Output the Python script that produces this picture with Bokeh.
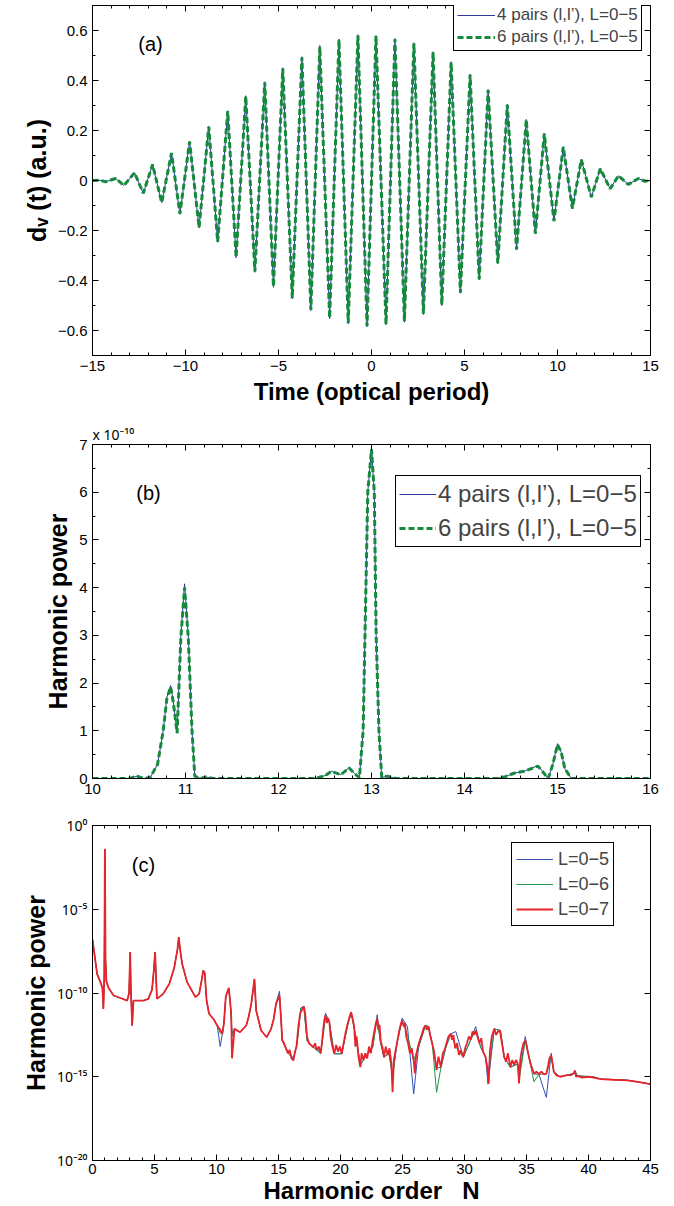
from bokeh.plotting import figure
from bokeh.models import (FixedTicker, CustomJSTickFormatter, LinearAxis, LogAxis,
                          Label, Range1d, Title)
from bokeh.layouts import column
from bokeh.embed import file_html
from bokeh.resources import INLINE

FONT = "Liberation Sans"
SUPFONT = "Noto Sans"

# ---------------- panel (a): dipole d_V(t) ----------------
t_a = [-15.00, -14.60, -14.30, -13.75, -13.31, -12.74, -12.27, -11.77, -11.28, -10.75,
       -10.30, -9.78, -9.27, -8.75, -8.27, -7.73, -7.28, -6.76, -6.27, -5.74,
       -5.27, -4.77, -4.26, -3.74, -3.26, -2.78, -2.25, -1.75, -1.25, -0.73,
       -0.24, 0.24, 0.78, 1.26, 1.77, 2.28, 2.79, 3.31, 3.78, 4.28,
       4.78, 5.30, 5.79, 6.27, 6.79, 7.30, 7.80, 8.32, 8.81, 9.29,
       9.81, 10.31, 10.80, 11.28, 11.82, 12.30, 12.83, 13.28, 13.80, 14.35,
       14.70, 15.00]
d_4pairs = [0.000, 0.001, -0.005, 0.008, -0.020, 0.031, -0.051, 0.064, -0.088, 0.110,
            -0.135, 0.157, -0.190, 0.217, -0.247, 0.279, -0.309, 0.339, -0.367, 0.395,
            -0.427, 0.451, -0.473, 0.495, -0.520, 0.540, -0.553, 0.566, -0.573, 0.583,
            -0.585, 0.580, -0.577, 0.568, -0.567, 0.551, -0.536, 0.515, -0.500, 0.475,
            -0.451, 0.425, -0.397, 0.364, -0.333, 0.305, -0.277, 0.244, -0.213, 0.188,
            -0.163, 0.135, -0.113, 0.084, -0.067, 0.047, -0.033, 0.019, -0.016, 0.008,
            -0.003, 0.000]
d_6pairs = [0.000, 0.001, -0.005, 0.008, -0.020, 0.031, -0.051, 0.064, -0.088, 0.110,
            -0.133, 0.155, -0.188, 0.215, -0.245, 0.277, -0.307, 0.336, -0.364, 0.392,
            -0.424, 0.448, -0.470, 0.492, -0.517, 0.534, -0.550, 0.562, -0.570, 0.580,
            -0.582, 0.578, -0.574, 0.565, -0.563, 0.548, -0.533, 0.512, -0.497, 0.472,
            -0.449, 0.423, -0.395, 0.362, -0.331, 0.303, -0.276, 0.243, -0.212, 0.187,
            -0.162, 0.134, -0.112, 0.083, -0.066, 0.047, -0.033, 0.019, -0.016, 0.008,
            -0.003, 0.000]

# ---------------- panel (b): harmonic power (x 1e-10) ----------------
h_b = [10.00, 10.40, 10.48, 10.55, 10.62, 10.70, 10.76, 10.80, 10.84, 10.87,
       10.91, 10.95, 10.99, 11.03, 11.07, 11.10, 11.16, 11.22, 11.30, 12.40,
       12.50, 12.57, 12.67, 12.76, 12.82, 12.87, 12.91, 12.93, 12.96, 13.00,
       13.03, 13.05, 13.08, 13.11, 13.17, 13.26, 14.35, 14.44, 14.53, 14.64,
       14.79, 14.85, 14.90, 14.95, 15.00, 15.04, 15.08, 15.15, 16.00]
pw_4pairs = [0.00, 0.00, 0.05, 0.00, 0.02, 0.30, 1.00, 1.70, 1.95, 1.60,
             0.95, 3.00, 4.08, 3.00, 1.00, 0.05, 0.00, 0.03, 0.00, 0.00,
             0.06, 0.15, 0.08, 0.23, 0.10, 0.02, 1.00, 3.00, 6.00, 6.93,
             6.00, 3.00, 1.00, 0.02, 0.05, 0.00, 0.00, 0.04, 0.11, 0.15,
             0.27, 0.12, 0.00, 0.30, 0.73, 0.55, 0.20, 0.00, 0.00]
pw_6pairs = [0.00, 0.00, 0.05, 0.00, 0.02, 0.30, 1.00, 1.68, 1.92, 1.58,
             0.95, 2.95, 4.00, 2.95, 1.00, 0.05, 0.00, 0.03, 0.00, 0.00,
             0.06, 0.15, 0.08, 0.22, 0.10, 0.02, 1.00, 3.00, 6.00, 6.90,
             6.00, 3.00, 1.00, 0.02, 0.05, 0.00, 0.00, 0.04, 0.11, 0.15,
             0.26, 0.12, 0.00, 0.30, 0.71, 0.55, 0.20, 0.00, 0.00]

# ---------------- panel (c): harmonic spectrum, log10 of power ----------------
# L=0-7 (finest reading)
N_c7 = [0.00, 0.37, 0.64, 0.80, 0.88, 0.95, 1.00, 1.05, 1.12, 1.30,
        1.70, 2.24, 2.80, 2.95, 3.04, 3.10, 3.20, 3.30, 4.10, 4.50,
        4.80, 4.95, 5.05, 5.12, 5.20, 5.70, 6.20, 6.60, 6.85, 6.96,
        7.05, 7.23, 7.63, 8.30, 8.60, 8.80, 8.93, 9.05, 9.20, 9.40,
        9.80, 10.05, 10.30, 10.47, 10.60, 10.75, 10.99, 11.10, 11.18, 11.25,
        11.45, 11.90, 12.40, 12.60, 12.80, 13.06, 13.20, 13.60, 14.05, 14.40,
        14.60, 14.80,
        15.08, 15.20, 15.30, 15.45, 15.60, 15.75, 15.90, 16.05, 16.20, 16.30,
        16.45, 16.60, 16.75, 16.90, 17.04, 17.15, 17.30, 17.45, 17.60, 17.80,
        17.95, 18.10, 18.25, 18.40, 18.50, 18.60, 18.70, 18.79, 18.90, 19.00,
        19.10, 19.20, 19.35, 19.50, 19.65, 19.80, 19.95, 20.10, 20.25, 20.40,
        20.55, 20.70, 20.86, 21.00, 21.10, 21.20, 21.30, 21.45, 21.60, 21.70,
        21.85, 22.00, 22.15, 22.30, 22.45, 22.60, 22.75, 22.85, 22.96, 23.05,
        23.15, 23.25, 23.40, 23.50, 23.65, 23.80, 23.95, 24.10, 24.20, 24.30,
        24.45, 24.60, 24.75, 24.85, 24.97, 25.10, 25.20, 25.30, 25.45, 25.60,
        25.75, 25.90, 26.00, 26.10, 26.25, 26.40, 26.55, 26.70, 26.85, 26.95,
        27.10, 27.25, 27.40, 27.55, 27.75, 27.90, 28.10, 28.25, 28.40, 28.55,
        28.70, 28.90, 29.00, 29.10, 29.25, 29.40, 29.55, 29.70, 29.90, 30.05,
        30.20, 30.35, 30.50, 30.65, 30.80, 30.90, 31.05, 31.20, 31.35, 31.50,
        31.70, 31.85, 31.95, 32.05, 32.20, 32.40, 32.55, 32.70, 32.85, 33.00,
        33.20, 33.35, 33.50, 33.70, 33.85, 34.00, 34.15, 34.30, 34.40, 34.50,
        34.60, 34.75, 34.90, 35.00, 35.10, 35.20, 35.35, 35.50, 35.60, 35.80,
        36.00, 36.20, 36.40, 36.60, 36.75, 36.85, 36.99, 37.10, 37.20, 37.40,
        37.70, 38.00, 38.30, 38.60, 38.80, 38.90, 39.00, 39.10, 39.50, 40.00,
        40.40, 41.00, 42.00, 43.10, 44.00, 45.00]
lg_L7 = [-6.80, -8.86, -9.35, -9.70, -10.95, -9.00, -1.40, -8.00, -9.30, -9.70,
         -10.15, -10.30, -10.45, -10.00, -7.56, -10.00, -11.94, -10.45, -10.45, -10.35,
         -9.80, -8.60, -7.55, -9.00, -10.35, -10.05, -9.45, -8.46, -7.40, -6.67,
         -7.30, -8.26, -9.35, -10.25, -10.05, -9.25, -8.66, -8.80, -10.45, -11.24,
         -11.60, -11.94, -12.20, -12.44, -11.80, -10.20, -9.69, -10.50, -11.20, -13.90,
         -12.14, -12.34, -11.94, -11.40, -10.65, -9.15, -11.05, -12.24, -12.64, -12.14,
         -11.60, -10.65,
         -10.15, -11.50, -12.80, -13.00, -13.30, -13.60, -13.40, -13.90, -14.03, -13.60,
         -13.20, -12.00, -11.20, -11.00, -10.80, -11.20, -12.60, -13.00, -13.10, -13.25,
         -13.00, -13.40, -13.20, -13.60, -13.00, -12.20, -11.60, -11.34, -11.80, -11.50,
         -11.74, -12.60, -13.20, -13.63, -13.10, -13.50, -13.20, -13.63, -13.00, -12.40,
         -11.90, -11.50, -11.14, -11.60, -12.00, -13.20, -12.60, -13.80, -14.43, -13.60,
         -14.00, -13.60, -13.90, -13.20, -13.60, -12.80, -12.20, -11.80, -11.54, -12.20,
         -11.90, -12.90, -13.30, -13.83, -13.20, -13.70, -13.30, -14.20, -15.93, -14.00,
         -13.40, -12.80, -12.20, -11.90, -11.64, -12.00, -11.80, -12.60, -13.00, -13.60,
         -13.30, -14.03, -14.80, -13.70, -13.20, -12.80, -12.50, -12.10, -11.94, -12.20,
         -12.00, -12.60, -13.03, -13.50, -14.60, -13.80, -14.43, -13.60, -13.40, -13.00,
         -12.60, -12.44, -12.80, -12.50, -13.30, -13.00, -13.70, -13.40, -13.83, -13.30,
         -13.00, -12.60, -12.80, -12.30, -12.50, -12.24, -12.60, -13.00, -12.70, -13.50,
         -13.83, -14.50, -15.40, -13.50, -12.60, -12.14, -12.50, -12.30, -12.24, -12.90,
         -13.83, -14.10, -13.60, -14.43, -14.00, -14.30, -14.00, -14.23, -15.40, -14.00,
         -13.50, -13.00, -12.84, -13.10, -13.50, -13.83, -14.30, -14.60, -14.83, -14.70,
         -14.85, -14.70, -14.85, -14.83, -14.30, -13.90, -13.73, -14.20, -14.70, -14.90,
         -15.00, -14.95, -14.90, -14.90, -14.80, -14.64, -15.00, -14.95, -15.05, -15.00,
         -15.05, -15.14, -15.18, -15.22, -15.30, -15.44]
# L=0-6 and L=0-5 (coarser reading, mostly hidden under L=0-7)
N_c56 = [0.00, 0.37, 0.64, 0.80, 0.88, 0.95, 1.00, 1.05, 1.12, 1.30,
         1.70, 2.24, 2.80, 2.95, 3.04, 3.10, 3.20, 3.30, 4.10, 4.50,
         4.80, 4.95, 5.05, 5.12, 5.20, 5.70, 6.20, 6.60, 6.85, 6.96,
         7.05, 7.23, 7.63, 8.30, 8.60, 8.80, 8.93, 9.05, 9.20, 9.40,
         9.80, 10.05, 10.30, 10.47, 10.60, 10.75, 10.99, 11.10, 11.18, 11.25,
         11.45, 11.90, 12.40, 12.60, 12.80, 13.06, 13.20, 13.60, 14.05, 14.40,
         14.60, 14.80, 15.08, 15.20, 15.30, 15.70, 16.20, 16.50, 16.80, 17.04,
         17.30, 17.80, 18.40, 18.60, 18.79, 19.10, 19.50, 20.10, 20.60, 20.86,
         21.30, 21.60, 22.00, 22.60, 22.96, 23.20, 23.50, 23.90, 24.20, 24.30,
         24.55, 24.97, 25.40, 25.90, 26.30, 26.85, 27.10, 27.40, 27.75, 28.10,
         28.50, 28.90, 29.30, 29.90, 30.50, 30.90, 31.30, 31.70, 31.90, 32.40,
         32.90, 33.20, 33.70, 34.30, 34.40, 34.90, 35.20, 35.60, 36.00, 36.60,
         36.99, 37.20, 37.70, 38.30, 38.80, 38.90, 39.10, 40.40, 41.00, 43.10,
         45.00]
lg_L6 = [-6.80, -8.86, -9.35, -9.70, -10.95, -9.00, -1.40, -8.00, -9.30, -9.70,
         -10.15, -10.30, -10.45, -10.00, -7.56, -10.00, -11.94, -10.45, -10.45, -10.35,
         -9.80, -8.60, -7.55, -9.00, -10.35, -10.05, -9.45, -8.46, -7.40, -6.67,
         -7.30, -8.26, -9.35, -10.25, -10.05, -9.25, -8.66, -8.80, -10.45, -11.24,
         -11.60, -11.94, -12.40, -12.44, -11.80, -10.20, -9.75, -10.50, -11.30, -12.60,
         -12.14, -12.34, -11.94, -11.40, -10.70, -9.20, -11.05, -12.24, -12.64, -12.14,
         -11.60, -10.70, -10.10, -11.50, -12.84, -13.53, -14.00, -13.03, -10.90, -10.80,
         -12.84, -13.23, -13.63, -12.50, -11.40, -11.74, -13.63, -13.63, -11.84, -11.20,
         -12.84, -14.30, -13.83, -13.23, -11.50, -12.84, -13.83, -13.60, -15.00, -14.43,
         -13.03, -11.64, -12.50, -14.03, -13.23, -11.94, -12.00, -13.03, -15.93, -14.43,
         -13.23, -12.44, -13.23, -13.83, -12.80, -12.24, -13.23, -13.83, -14.83, -12.14,
         -12.24, -13.83, -14.43, -14.23, -15.20, -12.84, -13.83, -15.30, -14.85, -14.83,
         -13.80, -14.70, -15.00, -14.90, -14.80, -14.64, -14.95, -15.00, -15.14, -15.20,
         -15.44]
lg_L5 = [-6.80, -8.86, -9.35, -9.70, -10.95, -9.00, -1.40, -8.00, -9.30, -9.70,
         -10.15, -10.30, -10.45, -10.00, -7.56, -10.00, -11.94, -10.45, -10.45, -10.35,
         -9.80, -8.60, -7.55, -9.00, -10.35, -10.05, -9.45, -8.46, -7.40, -6.67,
         -7.30, -8.26, -9.35, -10.25, -10.05, -9.25, -8.66, -8.80, -10.45, -11.24,
         -11.60, -11.94, -13.20, -12.44, -11.80, -10.20, -9.75, -10.50, -11.30, -12.40,
         -12.14, -12.34, -11.94, -11.40, -10.70, -9.20, -11.05, -12.24, -12.64, -12.14,
         -11.60, -10.60, -9.90, -11.50, -12.84, -13.40, -13.90, -13.03, -10.90, -10.80,
         -12.84, -13.23, -13.50, -12.50, -11.20, -11.74, -13.63, -13.63, -11.84, -11.20,
         -12.84, -14.30, -13.83, -13.23, -11.30, -12.84, -13.83, -13.60, -14.80, -14.43,
         -13.03, -11.50, -12.00, -16.03, -13.23, -11.94, -12.00, -13.03, -14.50, -14.43,
         -13.23, -12.44, -12.30, -13.83, -12.80, -12.00, -13.23, -13.83, -15.44, -12.14,
         -12.24, -13.83, -14.43, -14.23, -15.00, -12.60, -13.83, -14.83, -14.85, -16.23,
         -13.60, -14.70, -15.00, -14.90, -14.80, -14.64, -14.95, -15.00, -15.14, -15.20,
         -15.44]

# ticks
xa_major = [-15, -10, -5, 0, 5, 10, 15]
xa_minor = list(range(-15, 16))
ya_major = [-0.6, -0.4, -0.2, 0.0, 0.2, 0.4, 0.6]
ya_minor = [-0.7, -0.5, -0.3, -0.1, 0.1, 0.3, 0.5, 0.7]
xb_major = [10, 11, 12, 13, 14, 15, 16]
xb_minor = [10 + 0.2 * i for i in range(31)]
yb_major = [0, 1, 2, 3, 4, 5, 6, 7]
yb_minor = [0.5 * i for i in range(15)]
xc_major = [0, 5, 10, 15, 20, 25, 30, 35, 40, 45]
xc_minor = list(range(0, 46))
yc_major = [1e-20, 1e-15, 1e-10, 1e-5, 1e0]

BLUE = "#2b3a9e"
GREEN = "#148a3c"
BLUE_C = "#3350b5"
GREEN_C = "#1a9648"
RED_C = "#e8232b"

fmt_int = CustomJSTickFormatter(code="return tick.toFixed(0).replace('-', '\u2212');")
fmt_one = CustomJSTickFormatter(code="if (Math.abs(tick) < 1e-9) {return '0';} return tick.toFixed(1).replace('-', '\u2212');")
fmt_log = CustomJSTickFormatter(code="""
const e = Math.round(Math.log10(tick));
const sup = {'0':'\u2070','1':'\u00b9','2':'\u00b2','3':'\u00b3','4':'\u2074','5':'\u2075','6':'\u2076','7':'\u2077','8':'\u2078','9':'\u2079','-':'\u207b'};
return '10' + String(e).split('').map(c => sup[c]).join('');
""")
fmt_none = CustomJSTickFormatter(code="return '';")


def style_axis(ax, fs="15px"):
    ax.major_tick_in = 6
    ax.major_tick_out = 0
    ax.minor_tick_in = 3
    ax.minor_tick_out = 0
    ax.axis_line_color = "black"
    ax.major_tick_line_color = "black"
    ax.minor_tick_line_color = "black"
    ax.major_label_text_font = FONT
    ax.major_label_text_font_size = fs
    ax.major_label_text_color = "black"
    ax.axis_label_text_font = FONT
    ax.axis_label_text_font_style = "bold"
    ax.axis_label_text_color = "black"
    ax.major_label_standoff = 5
    ax.axis_label_standoff = 4


def mirror_axes(p, xt, yt, log_y=False):
    top = LinearAxis(ticker=xt, formatter=fmt_none)
    right = (LogAxis if log_y else LinearAxis)(ticker=yt, formatter=fmt_none)
    for ax in (top, right):
        style_axis(ax, "1px")
        ax.major_label_standoff = 0
    p.add_layout(top, "above")
    p.add_layout(right, "right")


def base(p):
    p.xgrid.visible = False
    p.ygrid.visible = False
    p.outline_line_color = "black"
    p.background_fill_color = "white"
    p.border_fill_color = "white"


def style_legend(lg, loc, fs, gw, gh, sp, standoff=2, pad=3):
    lg.location = loc
    lg.border_line_color = "black"
    lg.border_line_width = 1
    lg.border_line_alpha = 1
    lg.background_fill_alpha = 1
    lg.label_text_font = FONT
    lg.label_text_font_size = fs
    lg.glyph_width = gw
    lg.glyph_height = gh
    lg.label_height = gh
    lg.label_standoff = standoff
    lg.spacing = sp
    lg.padding = pad
    lg.margin = 0


def panel_label(p, x, y, txt):
    p.add_layout(Label(x=x, y=y, x_units="screen", y_units="screen", text=txt,
                       text_align="center", text_baseline="middle", text_font=FONT,
                       text_font_size="20px", text_color="black"))


W = 666
# ---------------- figure (a) ----------------
pa = figure(width=W, height=420, x_range=Range1d(-15, 15), y_range=Range1d(-0.7, 0.7),
            output_backend="svg", toolbar_location=None,
            min_border_left=92, min_border_right=16, min_border_top=5, min_border_bottom=65)
base(pa)
xta = FixedTicker(ticks=xa_major, minor_ticks=xa_minor)
yta = FixedTicker(ticks=ya_major, minor_ticks=ya_minor)
pa.xaxis.ticker = xta
pa.yaxis.ticker = yta
pa.xaxis.formatter = fmt_int
pa.yaxis.formatter = fmt_one
pa.xaxis.axis_label = "Time (optical period)"
pa.yaxis.axis_label = "d\u1d65 (t) (a.u.)"
style_axis(pa.xaxis[0])
style_axis(pa.yaxis[0])
pa.xaxis.axis_label_text_font_size = "24px"
pa.yaxis.axis_label_text_font_size = "25px"
mirror_axes(pa, xta, yta)
pa.line(t_a, d_4pairs, line_color=BLUE, line_width=1, legend_label="4 pairs (l,l\u2019), L=0\u22125")
pa.line(t_a, d_6pairs, line_color=GREEN, line_width=3, line_dash="6 3",
        legend_label="6 pairs (l,l\u2019), L=0\u22125")
style_legend(pa.legend[0], (361, 304), "17px", 38, 20, 2)
panel_label(pa, 58, 312, "(a)")

# ---------------- figure (b) ----------------
pb = figure(width=W, height=385, x_range=Range1d(10, 16), y_range=Range1d(0, 7),
            output_backend="svg", toolbar_location=None,
            min_border_left=92, min_border_right=16, min_border_top=24, min_border_bottom=27)
base(pb)
xtb = FixedTicker(ticks=xb_major, minor_ticks=xb_minor)
ytb = FixedTicker(ticks=yb_major, minor_ticks=yb_minor)
pb.xaxis.ticker = xtb
pb.yaxis.ticker = ytb
pb.xaxis.formatter = fmt_int
pb.yaxis.formatter = fmt_int
pb.yaxis.axis_label = "Harmonic power"
style_axis(pb.xaxis[0])
style_axis(pb.yaxis[0])
pb.yaxis.axis_label_text_font_size = "25px"
mirror_axes(pb, xtb, ytb)
pb.add_layout(Title(text="x 10\u207b\u00b9\u2070", align="left", offset=0, standoff=1,
                    text_font=SUPFONT, text_font_style="normal", text_font_size="14px",
                    text_color="black"), "above")
pb.line(h_b, pw_4pairs, line_color=BLUE, line_width=1, legend_label="4 pairs (l,l\u2019), L=0\u22125")
pb.line(h_b, pw_6pairs, line_color=GREEN, line_width=3, line_dash="6 3",
        legend_label="6 pairs (l,l\u2019), L=0\u22125")
style_legend(pb.legend[0], (303, 231), "24px", 37, 30, 4)
panel_label(pb, 56, 286, "(b)")

# ---------------- figure (c) ----------------
pc = figure(width=W, height=401, x_range=Range1d(0, 45), y_range=Range1d(1e-20, 1),
            y_axis_type="log", output_backend="svg", toolbar_location=None,
            min_border_left=92, min_border_right=16, min_border_top=20, min_border_bottom=46)
base(pc)
xtc = FixedTicker(ticks=xc_major, minor_ticks=xc_minor)
ytc = FixedTicker(ticks=yc_major, minor_ticks=[])
pc.xaxis.ticker = xtc
pc.yaxis.ticker = ytc
pc.xaxis.formatter = fmt_int
pc.yaxis.formatter = fmt_log
pc.xaxis.axis_label = "Harmonic order\u00a0\u00a0\u00a0N"
pc.yaxis.axis_label = "Harmonic power"
style_axis(pc.xaxis[0])
style_axis(pc.yaxis[0])
pc.yaxis.major_label_text_font = SUPFONT
pc.yaxis.major_label_text_font_size = "14px"
pc.xaxis.axis_label_text_font_size = "24px"
pc.yaxis.axis_label_text_font_size = "25px"
pc.xaxis.major_label_standoff = 3
pc.xaxis.axis_label_standoff = 0
mirror_axes(pc, xtc, ytc, log_y=True)
pc.line(N_c56, [10 ** v for v in lg_L5], line_color=BLUE_C, line_width=1, legend_label="L=0\u22125")
pc.line(N_c56, [10 ** v for v in lg_L6], line_color=GREEN_C, line_width=1, legend_label="L=0\u22126")
pc.line(N_c7, [10 ** v for v in lg_L7], line_color=RED_C, line_width=1.8, legend_label="L=0\u22127")
style_legend(pc.legend[0], (419, 234), "18px", 37, 24, 1, standoff=5, pad=4)
panel_label(pc, 51, 296, "(c)")

layout = column(pa, pb, pc)
open("out.html", "w").write(file_html(layout, INLINE))
